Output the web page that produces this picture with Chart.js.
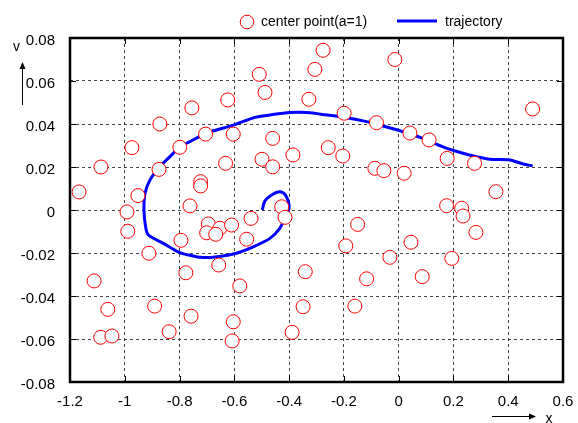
<!DOCTYPE html>
<html><head><meta charset="utf-8">
<script src="https://cdn.jsdelivr.net/npm/chart.js@4/dist/chart.umd.min.js"></script>
<style>html,body{margin:0;padding:0;background:#fff}#c{display:block}</style>
</head><body>
<canvas id="c" width="578" height="423"></canvas>
<script>
const centerX = [-1.167,-1.087,-0.974,-0.872,-0.755,-0.799,-0.875,-0.952,-0.992,-0.989,-0.912,-0.795,-0.777,-1.112,-1.062,-1.088,-1.047,-0.891,-0.838,-0.758,
  -0.276,-0.306,-0.509,-0.488,-0.624,-0.328,-0.199,-0.081,-0.705,-0.604,-0.460,-0.257,-0.386,-0.204,-0.632,-0.499,-0.460,-0.087,-0.054,0.020,
  -0.723,-0.723,-0.762,-0.427,-0.415,-0.539,-0.695,-0.701,-0.653,-0.668,-0.610,-0.555,-0.150,-0.193,-0.657,-0.341,-0.117,-0.580,-0.349,-0.160,
  -0.604,-0.389,-0.608,0.175,0.230,0.235,0.282,0.045,-0.032,0.194,0.086,-0.014,0.489,0.041,0.111,0.177,0.277,0.355];
const centerV = [0.0084,0.0200,0.0290,0.0400,0.0475,0.0292,0.0189,0.0067,-0.0009,-0.0099,-0.0201,-0.0141,-0.0292,-0.0330,-0.0462,-0.0592,-0.0586,-0.0447,-0.0566,-0.0494,
  0.0743,0.0654,0.0631,0.0547,0.0512,0.0515,0.0450,0.0406,0.0353,0.0353,0.0333,0.0290,0.0256,0.0251,0.0217,0.0236,0.0201,0.0194,0.0183,0.0171,
  0.0132,0.0112,0.0019,0.0015,-0.0034,-0.0039,-0.0065,-0.0106,-0.0085,-0.0113,-0.0070,-0.0136,-0.0067,-0.0167,-0.0256,-0.0287,-0.0320,-0.0353,-0.0450,-0.0447,
  -0.0520,-0.0569,-0.0609,0.0020,0.0008,-0.0028,-0.0104,-0.0150,-0.0220,-0.0225,-0.0310,0.0700,0.0470,0.0358,0.0326,0.0240,0.0217,0.0085];
const trajX = [-0.498,-0.488,-0.464,-0.434,-0.412,-0.400,-0.403,-0.415,-0.434,-0.470,-0.531,-0.604,-0.677,-0.726,-0.750,-0.799,-0.859,-0.914,-0.924,-0.930,
  -0.926,-0.908,-0.872,-0.835,-0.797,-0.762,-0.701,-0.604,-0.525,-0.470,-0.397,-0.336,-0.263,-0.190,-0.117,-0.069,0.016,0.089,0.162,0.235,0.284,0.333,0.406,0.454,0.489];
const trajV = [0.0000,0.0043,0.0070,0.0085,0.0067,0.0023,-0.0008,-0.0037,-0.0085,-0.0132,-0.0171,-0.0205,-0.0220,-0.0220,-0.0214,-0.0198,-0.0155,-0.0116,-0.0078,0.0000,
  0.0078,0.0140,0.0201,0.0248,0.0295,0.0318,0.0357,0.0395,0.0431,0.0442,0.0453,0.0453,0.0442,0.0429,0.0411,0.0395,0.0364,0.0333,0.0294,0.0264,0.0248,0.0236,0.0233,0.0214,0.0205];
const xTickValues = [-1.2,-1,-0.8,-0.6,-0.4,-0.2,0,0.2,0.4,0.6];
const xTickLabels = ['-1.2','-1','-0.8','-0.6','-0.4','-0.2','0','0.2','0.4','0.6'];
const yTickValues = [-0.08,-0.06,-0.04,-0.02,0,0.02,0.04,0.06,0.08];
const yTickLabels = ['-0.08','-0.06','-0.04','-0.02','0','0.02','0.04','0.06','0.08'];
const seriesNames = ['center point(a=1)','trajectory'];
const axisNames = ['x','v'];

const FONT = '"Liberation Sans", Arial, sans-serif';

const framePlugin = {
  id: 'frame',
  afterDraw(chart) {
    const ctx = chart.ctx, a = chart.chartArea;
    ctx.save();
    ctx.strokeStyle = '#000'; ctx.lineWidth = 1; ctx.setLineDash([]);
    const xs = chart.scales.x, ys = chart.scales.y;
    xTickValues.forEach(v => {
      const p = Math.round(xs.getPixelForValue(v)) + 0.5;
      ctx.beginPath(); ctx.moveTo(p, a.top); ctx.lineTo(p, a.top + 6);
      ctx.moveTo(p, a.bottom); ctx.lineTo(p, a.bottom - 6); ctx.stroke();
    });
    yTickValues.forEach(v => {
      const p = Math.round(ys.getPixelForValue(v)) + 0.5;
      ctx.beginPath(); ctx.moveTo(a.left, p); ctx.lineTo(a.left + 6, p);
      ctx.moveTo(a.right, p); ctx.lineTo(a.right - 6, p); ctx.stroke();
    });
    ctx.lineWidth = 2.5; ctx.strokeStyle = '#000';
    ctx.strokeRect(a.left, a.top, a.right - a.left, a.bottom - a.top);
    ctx.font = '14px ' + FONT; ctx.fillStyle = '#000'; ctx.textBaseline = 'middle'; ctx.textAlign = 'left';
    ctx.beginPath(); ctx.arc(247, 22, 6.8, 0, Math.PI * 2);
    ctx.fillStyle = '#fff'; ctx.fill(); ctx.strokeStyle = '#ff0000'; ctx.lineWidth = 1; ctx.stroke();
    ctx.fillStyle = '#000'; ctx.fillText(seriesNames[0], 261, 22);
    ctx.beginPath(); ctx.moveTo(397, 21); ctx.lineTo(437, 21); ctx.strokeStyle = '#0000ff'; ctx.lineWidth = 3; ctx.stroke();
    ctx.fillText(seriesNames[1], 445, 22);
    ctx.textAlign = 'center';
    ctx.fillText(axisNames[1], 16.5, 47);
    ctx.fillText(axisNames[0], 549, 419);
    ctx.strokeStyle = '#000'; ctx.fillStyle = '#000'; ctx.lineWidth = 1;
    ctx.beginPath(); ctx.moveTo(22.5, 105); ctx.lineTo(22.5, 66); ctx.stroke();
    ctx.beginPath(); ctx.moveTo(22.5, 62); ctx.lineTo(19.5, 69); ctx.lineTo(25.5, 69); ctx.closePath(); ctx.fill();
    ctx.beginPath(); ctx.moveTo(492, 416.5); ctx.lineTo(532, 416.5); ctx.stroke();
    ctx.beginPath(); ctx.moveTo(536, 416.5); ctx.lineTo(529, 413.5); ctx.lineTo(529, 419.5); ctx.closePath(); ctx.fill();
    ctx.restore();
  }
};

new Chart(document.getElementById('c'), {
  type: 'scatter',
  data: {
    datasets: [
      {
        label: seriesNames[0],
        data: centerX.map((x, i) => ({x, y: centerV[i]})),
        pointRadius: 7, pointBorderWidth: 1,
        borderColor: '#ff0000', backgroundColor: '#ffffff',
        pointBackgroundColor: '#ffffff', pointBorderColor: '#ff0000',
        showLine: false, order: 0
      },
      {
        label: seriesNames[1],
        data: trajX.map((x, i) => ({x, y: trajV[i]})),
        showLine: true, pointRadius: 0, borderColor: '#0000ff', borderWidth: 3,
        tension: 0.3, fill: false, order: 1
      }
    ]
  },
  options: {
    responsive: false, animation: false, devicePixelRatio: 1,
    layout: {padding: {left: 0, top: 38, right: 15, bottom: 0}},
    plugins: {legend: {display: false}, tooltip: {enabled: false}, title: {display: false}},
    scales: {
      x: {
        type: 'linear', min: -1.2, max: 0.6,
        afterBuildTicks: s => { s.ticks = xTickValues.map(v => ({value: v})); },
        afterFit: s => { s.height = 41; s.paddingLeft = 0; s.paddingRight = 0; },
        ticks: {callback: (v, i) => xTickLabels[i], font: {size: 15, family: FONT}, color: '#000', padding: 11, maxRotation: 0, autoSkip: false},
        grid: {color: '#444', lineWidth: 1, drawTicks: false, tickLength: 0},
        border: {display: false, dash: [3, 3]}
      },
      y: {
        type: 'linear', min: -0.08, max: 0.08,
        afterBuildTicks: s => { s.ticks = yTickValues.map(v => ({value: v})); },
        afterFit: s => { s.width = 70; s.paddingTop = 0; s.paddingBottom = 0; },
        ticks: {callback: (v, i) => yTickLabels[i], font: {size: 15, family: FONT}, color: '#000', padding: 15, labelOffset: 3, autoSkip: false},
        grid: {color: '#444', lineWidth: 1, drawTicks: false, tickLength: 0},
        border: {display: false, dash: [3, 3]}
      }
    }
  },
  plugins: [framePlugin]
});
</script>
</body></html>
